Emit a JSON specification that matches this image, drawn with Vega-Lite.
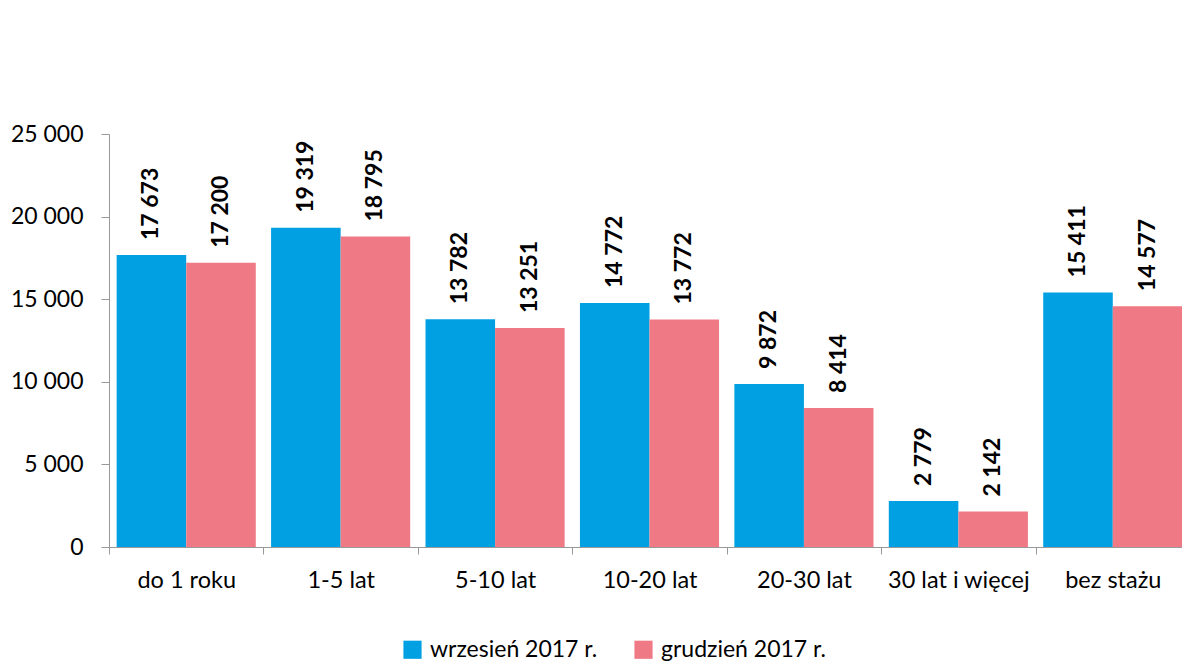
{
  "$schema": "https://vega.github.io/schema/vega-lite/v6.json",
  "width": 1073,
  "height": 413,
  "autosize": {"type": "none"},
  "padding": {"left": 109, "top": 134, "right": 0, "bottom": 119},
  "config": {
    "locale": {"number": {"decimal": ",", "thousands": " ", "grouping": [3], "currency": ["", " zł"]}},
    "view": {"stroke": null},
    "font": "Lato"
  },
  "data": {
    "values": [
      {"kat": "do 1 roku", "okres": "wrzesień 2017 r.", "v": 17673},
      {"kat": "do 1 roku", "okres": "grudzień 2017 r.", "v": 17200},
      {"kat": "1-5 lat", "okres": "wrzesień 2017 r.", "v": 19319},
      {"kat": "1-5 lat", "okres": "grudzień 2017 r.", "v": 18795},
      {"kat": "5-10 lat", "okres": "wrzesień 2017 r.", "v": 13782},
      {"kat": "5-10 lat", "okres": "grudzień 2017 r.", "v": 13251},
      {"kat": "10-20 lat", "okres": "wrzesień 2017 r.", "v": 14772},
      {"kat": "10-20 lat", "okres": "grudzień 2017 r.", "v": 13772},
      {"kat": "20-30 lat", "okres": "wrzesień 2017 r.", "v": 9872},
      {"kat": "20-30 lat", "okres": "grudzień 2017 r.", "v": 8414},
      {"kat": "30 lat i więcej", "okres": "wrzesień 2017 r.", "v": 2779},
      {"kat": "30 lat i więcej", "okres": "grudzień 2017 r.", "v": 2142},
      {"kat": "bez stażu", "okres": "wrzesień 2017 r.", "v": 15411},
      {"kat": "bez stażu", "okres": "grudzień 2017 r.", "v": 14577}
    ]
  },
  "encoding": {
    "x": {
      "field": "kat", "type": "nominal", "sort": null,
      "scale": {"paddingInner": 0, "paddingOuter": 0, "range": [0, 1081]},
      "axis": {
        "title": null, "labelAngle": 0, "labelFontSize": 23.5, "labelColor": "#000000",
        "domainColor": "#999999", "tickColor": "#999999", "tickSize": 7, "tickBand": "extent",
        "labelPadding": 14
      }
    },
    "xOffset": {"field": "okres", "sort": null, "scale": {"paddingInner": 0, "paddingOuter": 0.11}},
    "y": {
      "field": "v", "type": "quantitative",
      "scale": {"domain": [0, 25000]},
      "axis": {
        "title": null, "grid": false, "values": [0, 5000, 10000, 15000, 20000, 25000],
        "format": ",d", "labelFontSize": 23, "labelColor": "#000000",
        "domainColor": "#999999", "tickColor": "#999999", "tickSize": 8, "labelPadding": 18
      }
    }
  },
  "layer": [
    {
      "mark": {"type": "bar"},
      "encoding": {
        "color": {
          "field": "okres", "type": "nominal", "sort": null,
          "scale": {"domain": ["wrzesień 2017 r.", "grudzień 2017 r."], "range": ["#00A0E2", "#EF7A85"]},
          "legend": {
            "title": null, "orient": "none", "legendX": 292, "legendY": 504, "direction": "horizontal",
            "symbolType": "square", "symbolSize": 330, "symbolStrokeWidth": 0, "symbolOpacity": 1,
            "labelFontSize": 23, "labelColor": "#000000", "labelOffset": 6, "columnPadding": 34,
            "labelLimit": 400
          }
        }
      }
    },
    {
      "mark": {"type": "text", "angle": 270, "align": "left", "baseline": "middle", "dx": 15, "fontWeight": "bold", "fontSize": 23, "color": "#000000"},
      "encoding": {"text": {"field": "v", "type": "quantitative", "format": ",d"}}
    }
  ]
}
